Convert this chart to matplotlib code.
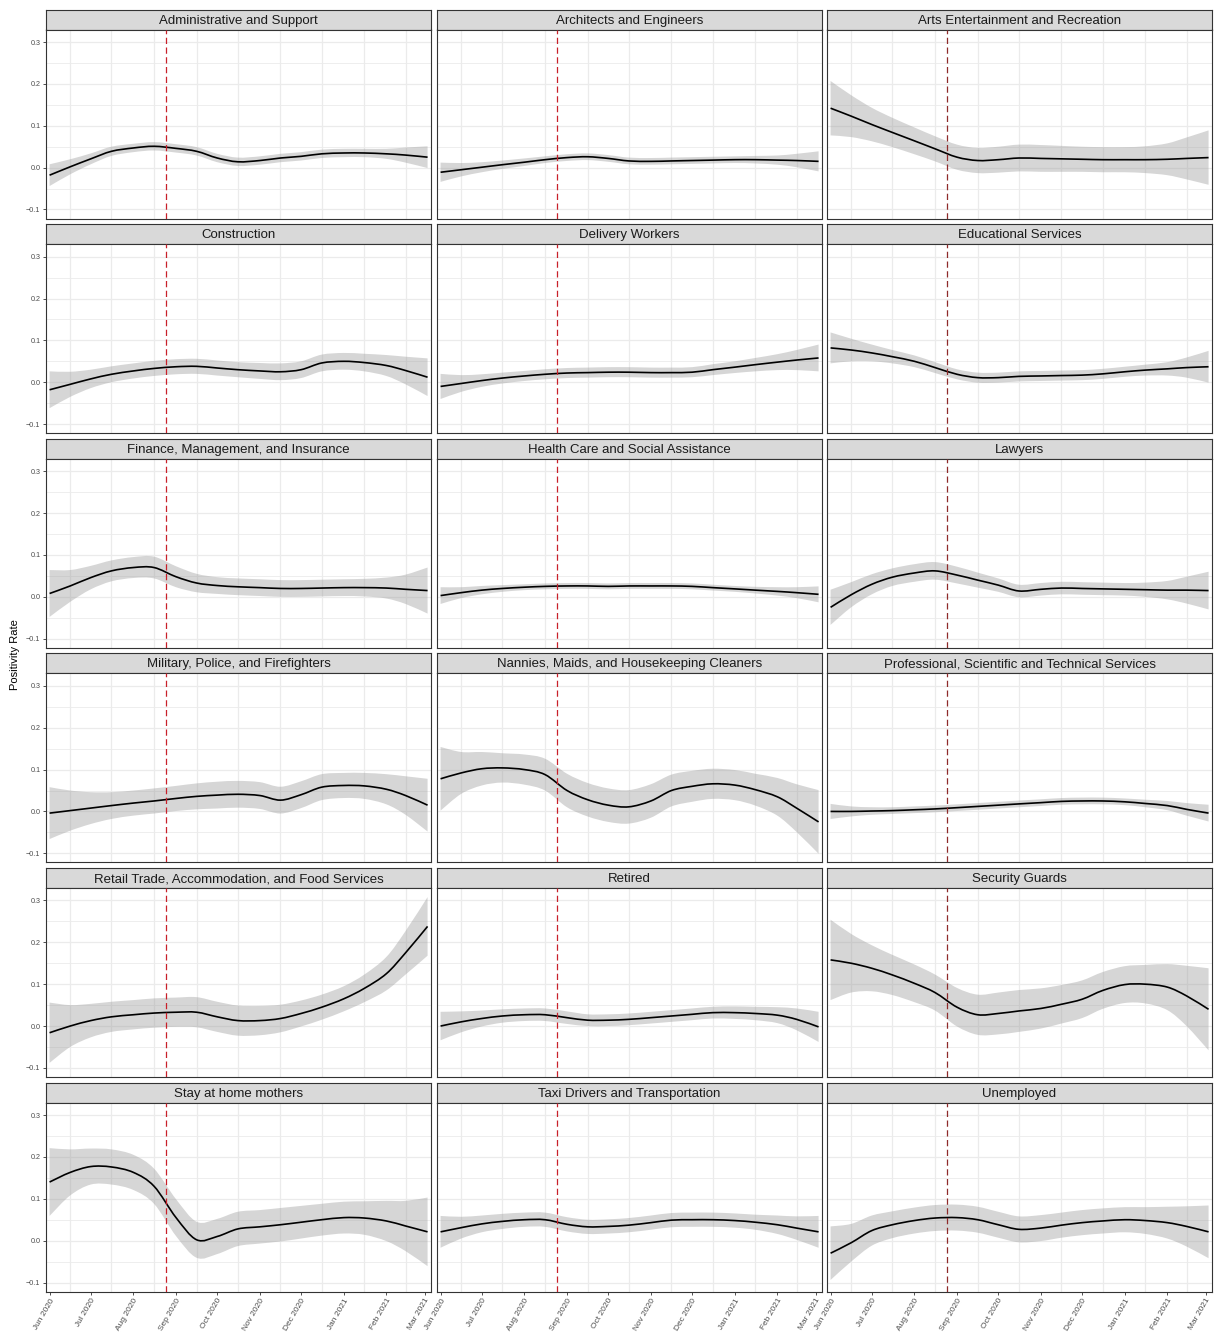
import numpy as np
import matplotlib
matplotlib.use("Agg")
import matplotlib.pyplot as plt
import matplotlib.dates as mdates
from matplotlib.path import Path
from matplotlib.patches import PathPatch

plt.rcParams["font.family"] = ["Liberation Sans", "DejaVu Sans"]

# Dates of the read-off points (half-monthly, Jun 2020 - Mar 2021)
dates = ["2020-06-01", "2020-06-16", "2020-07-01", "2020-07-16", "2020-08-01",
         "2020-08-16", "2020-09-01", "2020-09-16", "2020-10-01", "2020-10-16",
         "2020-11-01", "2020-11-16", "2020-12-01", "2020-12-16", "2021-01-01",
         "2021-01-16", "2021-02-01", "2021-02-15", "2021-03-03"]
month_ticks = ["2020-06-01", "2020-07-01", "2020-08-01", "2020-09-01", "2020-10-01",
               "2020-11-01", "2020-12-01", "2021-01-01", "2021-02-01", "2021-03-01"]
cutoff_date = "2020-08-25"

occupations = ["Administrative and Support", "Architects and Engineers",
               "Arts Entertainment and Recreation", "Construction", "Delivery Workers",
               "Educational Services", "Finance, Management, and Insurance",
               "Health Care and Social Assistance", "Lawyers",
               "Military, Police, and Firefighters",
               "Nannies, Maids, and Housekeeping Cleaners",
               "Professional, Scientific and Technical Services",
               "Retail Trade, Accommodation, and Food Services", "Retired",
               "Security Guards", "Stay at home mothers",
               "Taxi Drivers and Transportation", "Unemployed"]

# smoothed positivity rate and half width of the confidence band
admin_fit = [-0.018, 0.002, 0.021, 0.039, 0.047, 0.051, 0.046, 0.039, 0.023, 0.014,
             0.017, 0.023, 0.027, 0.033, 0.035, 0.035, 0.033, 0.030, 0.025]
admin_ci = [0.026, 0.018, 0.013, 0.011, 0.010, 0.010, 0.010, 0.010, 0.010, 0.010,
            0.010, 0.010, 0.010, 0.010, 0.010, 0.010, 0.012, 0.018, 0.026]
arch_fit = [-0.011, -0.005, 0.001, 0.007, 0.013, 0.019, 0.024, 0.026, 0.022, 0.016,
            0.015, 0.016, 0.017, 0.018, 0.019, 0.019, 0.018, 0.017, 0.015]
arch_ci = [0.023, 0.016, 0.012, 0.010, 0.009, 0.008, 0.008, 0.008, 0.008, 0.008,
           0.008, 0.008, 0.008, 0.008, 0.008, 0.009, 0.011, 0.016, 0.024]
arts_fit = [0.142, 0.123, 0.103, 0.084, 0.064, 0.045, 0.025, 0.017, 0.019, 0.023,
            0.022, 0.021, 0.020, 0.019, 0.019, 0.019, 0.020, 0.022, 0.024]
arts_ci = [0.065, 0.050, 0.040, 0.035, 0.032, 0.030, 0.030, 0.030, 0.031, 0.032,
           0.032, 0.031, 0.030, 0.030, 0.030, 0.032, 0.038, 0.050, 0.065]
constr_fit = [-0.018, -0.005, 0.008, 0.019, 0.027, 0.033, 0.037, 0.038, 0.034, 0.030,
              0.027, 0.025, 0.030, 0.046, 0.050, 0.047, 0.040, 0.028, 0.012]
constr_ci = [0.044, 0.030, 0.022, 0.019, 0.018, 0.018, 0.018, 0.018, 0.018, 0.018,
             0.019, 0.020, 0.020, 0.020, 0.020, 0.021, 0.025, 0.033, 0.045]
deliv_fit = [-0.010, -0.003, 0.004, 0.010, 0.015, 0.019, 0.022, 0.023, 0.024, 0.024,
             0.023, 0.023, 0.024, 0.030, 0.036, 0.042, 0.048, 0.053, 0.058]
deliv_ci = [0.030, 0.020, 0.015, 0.013, 0.012, 0.012, 0.012, 0.012, 0.012, 0.012,
            0.012, 0.012, 0.012, 0.013, 0.014, 0.016, 0.019, 0.024, 0.032]
educ_fit = [0.082, 0.077, 0.070, 0.061, 0.050, 0.035, 0.019, 0.011, 0.011, 0.014,
            0.015, 0.016, 0.017, 0.020, 0.025, 0.029, 0.032, 0.035, 0.037]
educ_ci = [0.037, 0.027, 0.020, 0.016, 0.014, 0.013, 0.012, 0.012, 0.012, 0.012,
           0.012, 0.012, 0.012, 0.012, 0.012, 0.013, 0.016, 0.024, 0.038]
fin_fit = [0.008, 0.026, 0.046, 0.062, 0.070, 0.070, 0.048, 0.033, 0.027, 0.024,
           0.022, 0.020, 0.020, 0.021, 0.022, 0.022, 0.021, 0.018, 0.015]
fin_ci = [0.056, 0.038, 0.028, 0.025, 0.025, 0.026, 0.025, 0.022, 0.020, 0.020,
          0.020, 0.020, 0.020, 0.020, 0.020, 0.021, 0.025, 0.035, 0.055]
health_fit = [0.003, 0.010, 0.016, 0.020, 0.023, 0.025, 0.026, 0.026, 0.025, 0.026,
              0.026, 0.026, 0.025, 0.022, 0.019, 0.016, 0.013, 0.010, 0.006]
health_ci = [0.020, 0.013, 0.010, 0.008, 0.007, 0.007, 0.007, 0.007, 0.007, 0.007,
             0.007, 0.007, 0.007, 0.007, 0.007, 0.008, 0.010, 0.013, 0.019]
law_fit = [-0.025, 0.005, 0.030, 0.047, 0.057, 0.062, 0.052, 0.040, 0.028, 0.014,
           0.018, 0.021, 0.020, 0.019, 0.018, 0.017, 0.016, 0.016, 0.015]
law_ci = [0.042, 0.030, 0.024, 0.021, 0.021, 0.021, 0.020, 0.018, 0.016, 0.015,
          0.015, 0.015, 0.015, 0.015, 0.015, 0.017, 0.022, 0.032, 0.045]
mil_fit = [-0.004, 0.002, 0.008, 0.014, 0.020, 0.025, 0.031, 0.036, 0.039, 0.041,
           0.038, 0.027, 0.040, 0.058, 0.062, 0.061, 0.053, 0.038, 0.015]
mil_ci = [0.062, 0.048, 0.038, 0.032, 0.030, 0.030, 0.030, 0.031, 0.032, 0.032,
          0.032, 0.032, 0.032, 0.031, 0.030, 0.031, 0.036, 0.046, 0.063]
nanny_fit = [0.078, 0.092, 0.102, 0.104, 0.100, 0.088, 0.050, 0.028, 0.015, 0.011,
             0.025, 0.050, 0.060, 0.066, 0.063, 0.052, 0.035, 0.008, -0.025]
nanny_ci = [0.076, 0.050, 0.040, 0.035, 0.036, 0.038, 0.040, 0.040, 0.040, 0.040,
            0.040, 0.038, 0.037, 0.036, 0.036, 0.038, 0.045, 0.057, 0.076]
prof_fit = [0.000, 0.000, 0.001, 0.002, 0.004, 0.006, 0.009, 0.012, 0.015, 0.018,
            0.021, 0.024, 0.025, 0.025, 0.023, 0.019, 0.014, 0.005, -0.004]
prof_ci = [0.018, 0.012, 0.009, 0.008, 0.008, 0.008, 0.008, 0.008, 0.008, 0.008,
           0.008, 0.008, 0.008, 0.008, 0.008, 0.009, 0.011, 0.015, 0.020]
retail_fit = [-0.016, 0.000, 0.013, 0.022, 0.027, 0.031, 0.033, 0.033, 0.022, 0.013,
              0.013, 0.018, 0.030, 0.045, 0.065, 0.090, 0.125, 0.175, 0.238]
retail_ci = [0.072, 0.050, 0.040, 0.036, 0.035, 0.035, 0.035, 0.036, 0.036, 0.036,
             0.035, 0.033, 0.031, 0.030, 0.030, 0.033, 0.040, 0.052, 0.070]
retired_fit = [0.000, 0.010, 0.018, 0.024, 0.027, 0.027, 0.020, 0.014, 0.014, 0.016,
               0.020, 0.024, 0.028, 0.032, 0.032, 0.030, 0.026, 0.016, -0.002]
retired_ci = [0.034, 0.025, 0.019, 0.016, 0.015, 0.015, 0.015, 0.014, 0.014, 0.014,
              0.014, 0.014, 0.014, 0.014, 0.015, 0.016, 0.019, 0.026, 0.036]
guard_fit = [0.158, 0.150, 0.138, 0.122, 0.102, 0.080, 0.045, 0.027, 0.030, 0.036,
             0.042, 0.052, 0.064, 0.085, 0.099, 0.100, 0.093, 0.072, 0.040]
guard_ci = [0.096, 0.070, 0.055, 0.048, 0.045, 0.043, 0.046, 0.048, 0.050, 0.050,
            0.048, 0.046, 0.045, 0.044, 0.044, 0.046, 0.055, 0.072, 0.098]
mothers_fit = [0.140, 0.163, 0.177, 0.176, 0.163, 0.130, 0.055, 0.002, 0.010, 0.028,
               0.033, 0.038, 0.044, 0.050, 0.055, 0.054, 0.047, 0.035, 0.021]
mothers_ci = [0.081, 0.055, 0.043, 0.042, 0.042, 0.042, 0.044, 0.043, 0.042, 0.041,
              0.040, 0.040, 0.039, 0.038, 0.038, 0.040, 0.048, 0.060, 0.082]
taxi_fit = [0.021, 0.031, 0.040, 0.046, 0.050, 0.050, 0.039, 0.033, 0.034, 0.037,
            0.043, 0.049, 0.050, 0.050, 0.048, 0.044, 0.038, 0.030, 0.021]
taxi_ci = [0.038, 0.026, 0.020, 0.018, 0.017, 0.017, 0.017, 0.017, 0.017, 0.017,
           0.017, 0.017, 0.017, 0.017, 0.017, 0.018, 0.022, 0.028, 0.038]
unemp_fit = [-0.030, -0.005, 0.024, 0.038, 0.048, 0.054, 0.055, 0.050, 0.038, 0.027,
             0.030, 0.037, 0.043, 0.047, 0.050, 0.048, 0.043, 0.034, 0.021]
unemp_ci = [0.064, 0.045, 0.036, 0.032, 0.031, 0.031, 0.031, 0.031, 0.031, 0.031,
            0.031, 0.030, 0.030, 0.030, 0.030, 0.032, 0.038, 0.048, 0.063]

fits = [admin_fit, arch_fit, arts_fit, constr_fit, deliv_fit, educ_fit, fin_fit,
        health_fit, law_fit, mil_fit, nanny_fit, prof_fit, retail_fit, retired_fit,
        guard_fit, mothers_fit, taxi_fit, unemp_fit]
cis = [admin_ci, arch_ci, arts_ci, constr_ci, deliv_ci, educ_ci, fin_ci,
       health_ci, law_ci, mil_ci, nanny_ci, prof_ci, retail_ci, retired_ci,
       guard_ci, mothers_ci, taxi_ci, unemp_ci]


def bezier_through(xs, ys):
    # Catmull-Rom style cubic Bezier segments through the read points
    p = np.column_stack([xs, ys])
    ext = np.vstack([p[0], p, p[-1]])
    verts = [p[0]]
    for i in range(len(p) - 1):
        p0, p1, p2, p3 = ext[i], ext[i + 1], ext[i + 2], ext[i + 3]
        verts += [p1 + (p2 - p0) / 6, p2 - (p3 - p1) / 6, p2]
    return verts


def line_path(xs, ys):
    verts = bezier_through(xs, ys)
    codes = [Path.MOVETO] + [Path.CURVE4] * (len(verts) - 1)
    return Path(verts, codes)


def band_path(xs, lo, hi):
    up = bezier_through(xs, hi)
    down = bezier_through(xs[::-1], lo[::-1])
    verts = up + down + [up[0]]
    codes = ([Path.MOVETO] + [Path.CURVE4] * (len(up) - 1) +
             [Path.LINETO] + [Path.CURVE4] * (len(down) - 1) + [Path.CLOSEPOLY])
    return Path(verts, codes)


x = mdates.date2num(np.array(dates, dtype="datetime64[D]"))
xticks = mdates.date2num(np.array(month_ticks, dtype="datetime64[D]"))
xgrid = x[1:-1:2]  # vertical grid at mid-month
cut = mdates.date2num(np.datetime64(cutoff_date))

W, H = 1219, 1334
fig = plt.figure(figsize=(W / 100, H / 100), dpi=100)

col_left = [46, 437, 827]
panel_w = 385
row_pitch = 214.6
strip_h = 20
panel_h = 189
border = "#333333"

for i, name in enumerate(occupations):
    r, c = divmod(i, 3)
    top = 9.5 + r * row_pitch
    # strip
    sax = fig.add_axes([col_left[c] / W, 1 - (top + strip_h) / H, panel_w / W, strip_h / H])
    sax.set_facecolor("#D9D9D9")
    sax.set_xticks([])
    sax.set_yticks([])
    for sp in sax.spines.values():
        sp.set_color(border)
        sp.set_linewidth(0.8)
    sax.text(0.5, 0.44, name, ha="center", va="center", fontsize=9.5, color="#1A1A1A",
             transform=sax.transAxes)

    ax = fig.add_axes([col_left[c] / W, 1 - (top + strip_h + panel_h) / H, panel_w / W, panel_h / H])
    fit = np.array(fits[i])
    ci = np.array(cis[i])
    ax.add_patch(PathPatch(band_path(x, fit - ci, fit + ci), facecolor="#999999",
                           alpha=0.4, linewidth=0, zorder=2))
    ax.add_patch(PathPatch(line_path(x, fit), fill=False, edgecolor="black",
                           lw=1.2, zorder=3))
    line_col = "#8E2A2A" if c == 2 else "#C8202A"
    ax.axvline(cut, color=line_col, lw=0.9, dashes=(5, 2.8), zorder=4)

    ax.set_xlim(xticks[0] - 2.6, xticks[-1] + 4.5)
    ax.set_ylim(-0.1215, 0.330)
    ax.set_yticks([-0.1, 0.0, 0.1, 0.2, 0.3])
    ax.set_xticks(xticks)
    for yv in [-0.1, 0.0, 0.1, 0.2, 0.3]:
        ax.axhline(yv, color="#EBEBEB", lw=0.9, zorder=0)
    for yv in [-0.05, 0.05, 0.15, 0.25]:
        ax.axhline(yv, color="#EBEBEB", lw=0.6, zorder=0)
    for xv in xgrid:
        ax.axvline(xv, color="#EBEBEB", lw=0.9, zorder=0)
    for sp in ax.spines.values():
        sp.set_color(border)
        sp.set_linewidth(0.8)
    ax.tick_params(which="major", length=2.5, width=0.6, color=border,
                   labelsize=5.2, labelcolor="#4D4D4D", pad=1.5)
    if c == 0:
        ax.set_yticklabels(["\u22120.1", "0.0", "0.1", "0.2", "0.3"])
    else:
        ax.tick_params(axis="y", length=0, labelleft=False)
    if r == 5:
        ax.set_xticklabels([np.datetime64(d).astype(object).strftime("%b %Y") for d in month_ticks],
                           rotation=60, ha="right", va="top", rotation_mode="anchor", fontsize=6)
    else:
        ax.tick_params(axis="x", length=0, labelbottom=False)

fig.text(15 / W, 1 - 655 / H, "Positivity Rate", rotation=90, ha="center", va="center",
         fontsize=8, color="black")

fig.savefig("out.png", dpi=100)
